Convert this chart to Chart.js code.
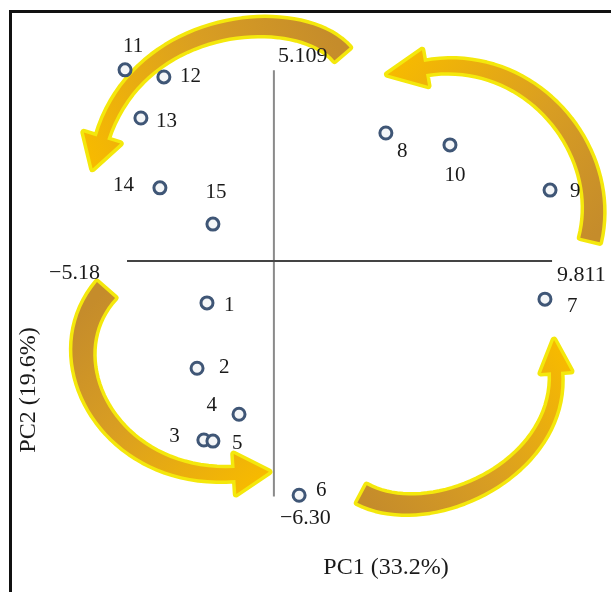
<!DOCTYPE html>
<html>
<head>
<meta charset="utf-8">
<script src="https://cdn.jsdelivr.net/npm/chart.js@4"></script>
<style>
    html, body { margin: 0; padding: 0; background: #fff; overflow: hidden; }
    #frame {
        position: absolute; left: 9px; top: 10px;
        width: 720px; height: 720px;
        border: 3px solid #111;
    }
    #pca { position: absolute; left: 0; top: 0; }
</style>
</head>
<body>
<div id="frame"></div>
<canvas id="pca" width="611" height="592"></canvas>
<script>
// Amostras 1..15 (PC1, PC2)
const sampleIds = ['1', '2', '3', '4', '5', '6', '7', '8', '9', '10', '11', '12', '13', '14', '15'];
const pc1Values = [-2.36, -2.71, -2.47, -1.23, -2.15, 0.89, 9.56, 3.95, 9.74, 6.21, -5.25, -3.88, -4.69, -4.02, -2.15];
const pc2Values = [-1.12, -2.87, -4.79, -4.10, -4.82, -6.27, -1.02, 3.43, 1.90, 3.11, 5.12, 4.93, 3.83, 1.96, 0.99];

// Extremos dos eixos
const pc1Range = [-5.18, 9.811];
const pc2Range = [-6.30, 5.109];
const pc1Ticks = ['\u22125.18', '9.811'];
const pc2Ticks = ['5.109', '\u22126.30'];

const xTitle = 'PC1 (33.2%)';
const yTitle = 'PC2 (19.6%)';

// Posição dos rótulos em relação ao ponto: [dx, dy, alinhamento]
const labelOffsets = {
    '1': [17, 3, 'left'], '2': [22, -1, 'left'], '3': [-24, -4, 'right'],
    '4': [-22, -9, 'right'], '5': [19, 2, 'left'], '6': [17, -5, 'left'],
    '7': [22, 7, 'left'], '8': [11, 19, 'left'], '9': [20, 1, 'left'],
    '10': [5, 31, 'center'], '11': [8, -23, 'center'], '12': [16, 0, 'left'],
    '13': [15, 3, 'left'], '14': [-26, -2, 'right'], '15': [3, -32, 'center']
};

// Setas decorativas (curvas de Bézier em pixels)
const arrows = [
    { pts: [[342, 54], [300, 5], [140, 15], [102, 138]], wTail: 20, wHead: 11, headLen: 32, headW: 38 },
    { pts: [[590, 240], [612, 150], [530, 50], [425, 68]], wTail: 20, wHead: 12, headLen: 38, headW: 36 },
    { pts: [[106, 290], [45, 360], [110, 482], [235, 474]], wTail: 24, wHead: 12, headLen: 34, headW: 40 },
    { pts: [[362, 494], [430, 530], [562, 470], [556, 372]], wTail: 20, wHead: 10, headLen: 32, headW: 30 }
];

const SERIF = '"Liberation Serif", "DejaVu Serif", serif';

function bezier(p, t) {
    const u = 1 - t;
    const a = u * u * u, b = 3 * u * u * t, c = 3 * u * t * t, d = t * t * t;
    return [a * p[0][0] + b * p[1][0] + c * p[2][0] + d * p[3][0],
            a * p[0][1] + b * p[1][1] + c * p[2][1] + d * p[3][1]];
}

function bezierTangent(p, t) {
    const u = 1 - t;
    const dx = 3 * u * u * (p[1][0] - p[0][0]) + 6 * u * t * (p[2][0] - p[1][0]) + 3 * t * t * (p[3][0] - p[2][0]);
    const dy = 3 * u * u * (p[1][1] - p[0][1]) + 6 * u * t * (p[2][1] - p[1][1]) + 3 * t * t * (p[3][1] - p[2][1]);
    const len = Math.hypot(dx, dy) || 1;
    return [dx / len, dy / len];
}

function drawArrow(ctx, a) {
    const left = [], right = [];
    const steps = 40;
    for (let i = 0; i <= steps; i++) {
        const t = i / steps;
        const c = bezier(a.pts, t);
        const tg = bezierTangent(a.pts, t);
        const w = (a.wTail + (a.wHead - a.wTail) * t) / 2;
        left.push([c[0] - tg[1] * w, c[1] + tg[0] * w]);
        right.push([c[0] + tg[1] * w, c[1] - tg[0] * w]);
    }
    const end = a.pts[3];
    const tg = bezierTangent(a.pts, 1);
    const hw = a.headW / 2;
    const tip = [end[0] + tg[0] * a.headLen, end[1] + tg[1] * a.headLen];

    ctx.beginPath();
    left.forEach((p, i) => i ? ctx.lineTo(p[0], p[1]) : ctx.moveTo(p[0], p[1]));
    ctx.lineTo(end[0] - tg[1] * hw, end[1] + tg[0] * hw);
    ctx.lineTo(tip[0], tip[1]);
    ctx.lineTo(end[0] + tg[1] * hw, end[1] - tg[0] * hw);
    for (let i = right.length - 1; i >= 0; i--) ctx.lineTo(right[i][0], right[i][1]);
    ctx.closePath();

    ctx.save();
    ctx.lineJoin = 'round';
    ctx.strokeStyle = '#f4e80c';
    ctx.lineWidth = 7;
    ctx.stroke();
    const grad = ctx.createLinearGradient(a.pts[0][0], a.pts[0][1], tip[0], tip[1]);
    grad.addColorStop(0, '#c58c2b');
    grad.addColorStop(0.45, '#d99e22');
    grad.addColorStop(1, '#f7ba00');
    ctx.fillStyle = grad;
    ctx.fill();
    ctx.restore();
}

const decorPlugin = {
    id: 'decor',
    beforeDatasetsDraw(chart) {
        const ctx = chart.ctx;
        arrows.forEach(a => drawArrow(ctx, a));
    },
    afterDatasetsDraw(chart) {
        const ctx = chart.ctx;
        const xs = chart.scales.x, ys = chart.scales.y;
        ctx.save();
        ctx.fillStyle = '#1a1a1a';
        ctx.textBaseline = 'middle';

        // rótulos das amostras
        ctx.font = '21px ' + SERIF;
        const meta = chart.getDatasetMeta(2);
        meta.data.forEach((pt, i) => {
            const off = labelOffsets[sampleIds[i]];
            ctx.textAlign = off[2];
            ctx.fillText(sampleIds[i], pt.x + off[0], pt.y + off[1]);
        });

        // valores nos extremos dos eixos
        ctx.font = '22px ' + SERIF;
        const x0 = xs.getPixelForValue(0), y0 = ys.getPixelForValue(0);
        ctx.textAlign = 'right';
        ctx.fillText(pc1Ticks[0], xs.getPixelForValue(pc1Range[0]) - 27, y0 + 12);
        ctx.textAlign = 'left';
        ctx.fillText(pc1Ticks[1], xs.getPixelForValue(pc1Range[1]) + 5, y0 + 14);
        ctx.fillText(pc2Ticks[0], x0 + 4, ys.getPixelForValue(pc2Range[1]) - 14);
        ctx.fillText(pc2Ticks[1], x0 + 6, ys.getPixelForValue(pc2Range[0]) + 22);

        // títulos
        ctx.font = '24px ' + SERIF;
        ctx.textAlign = 'center';
        ctx.fillText(xTitle, 386, 568);
        ctx.translate(29, 390);
        ctx.rotate(-Math.PI / 2);
        ctx.fillText(yTitle, 0, 0);
        ctx.restore();
    }
};

const ctx = document.getElementById('pca').getContext('2d');

new Chart(ctx, {
    type: 'scatter',
    data: {
        datasets: [
            {
                // eixo PC1
                type: 'line',
                data: [{ x: pc1Range[0], y: 0 }, { x: pc1Range[1], y: 0 }],
                borderColor: '#444',
                borderWidth: 2,
                pointRadius: 0,
                order: 2
            },
            {
                // eixo PC2
                type: 'line',
                data: [{ x: 0, y: pc2Range[1] }, { x: 0, y: pc2Range[0] }],
                borderColor: '#8a8a8a',
                borderWidth: 2,
                pointRadius: 0,
                order: 2
            },
            {
                data: pc1Values.map((v, i) => ({ x: v, y: pc2Values[i] })),
                pointStyle: 'circle',
                pointRadius: 6,
                borderWidth: 3,
                borderColor: '#3f5676',
                backgroundColor: '#f4f6f8',
                order: 1
            }
        ]
    },
    options: {
        responsive: false,
        animation: false,
        layout: { padding: 0, autoPadding: false },
        plugins: {
            legend: { display: false },
            tooltip: { enabled: false }
        },
        scales: {
            x: { type: 'linear', display: false, min: -9.66, max: 11.89 },
            y: { type: 'linear', display: false, min: -8.86, max: 6.99 }
        }
    },
    plugins: [decorPlugin]
});
</script>
</body>
</html>
